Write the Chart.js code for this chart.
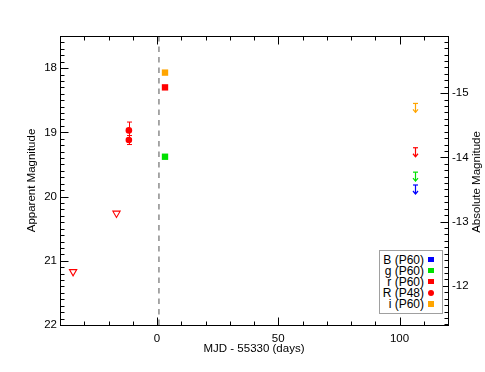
<!DOCTYPE html>
<html><head><meta charset="utf-8">
<script src="https://cdn.jsdelivr.net/npm/chart.js@4/dist/chart.umd.min.js"></script>
<style>
html,body{margin:0;padding:0;background:#fff;}
#wrap{position:relative;width:485px;height:372px;overflow:hidden;}
#c{position:absolute;left:0;top:0;}
#lg{position:absolute;left:379px;top:250px;width:62px;height:62px;border:1px solid #a0a0a0;background:#fff;font:12px "Liberation Sans",Arial,sans-serif;color:#000;}
#lg .t{position:absolute;right:18px;white-space:nowrap;line-height:12px;}
#lg .m{position:absolute;left:48px;width:5.5px;height:5.5px;}
#rt{position:absolute;width:200px;left:376px;top:175px;text-align:center;font:11.5px "Liberation Sans",Arial,sans-serif;color:#000;line-height:14px;transform:rotate(-90deg);transform-origin:50% 50%;}
</style></head>
<body><div id="wrap"><canvas id="c" width="485" height="372"></canvas><div id="lg"></div><div id="rt">Absolute Magnitude</div></div>
<script>
// ---- data ----
const distanceModulus = 33.39;
const explosionDay = 0.8;
const xMajorTicks = [0, 50, 100];
const yAppTicks = [18, 19, 20, 21, 22];
const yAbsTicks = [-15, -14, -13, -12];

const r48Days = [-11.6, -11.6];
const r48Mags = [18.97, 19.12];
const r48Errs = [0.13, 0.07];
const r48LimitDays = [-34.6, -16.7];
const r48LimitMags = [21.17, 20.26];

const p60Day = [3.3];
const iMag = [18.07];
const rMag = [18.30];
const gMag = [19.38];

const lateDay = 106.2;
const lateFilters = ['B', 'g', 'r', 'i'];
const lateLimitMags = [19.82, 19.62, 19.24, 18.55];

const legendLabels = ['B (P60)', 'g (P60)', 'r (P60)', 'R (P48)', 'i (P60)'];
const legendShapes = ['rect', 'rect', 'rect', 'circle', 'rect'];

// ---- styles ----
const COL = {B:'#0000ff', g:'#00e000', r:'#ff0000', R:'#ff0000', i:'#ffa500'};
const legendColors = [COL.B, COL.g, COL.r, COL.R, COL.i];
const lateColors = [COL.B, COL.g, COL.r, COL.i];
const FONT = {family:'"Liberation Sans", Arial, Helvetica, sans-serif', size:11.5};

const pts = (xs, ys) => ys.map((v, k) => ({x: Array.isArray(xs) ? xs[k] : xs, y: v}));

const framePlugin = {
  id: 'frame',
  afterDatasetsDraw(chart) {
    const {ctx, chartArea: a, scales: {x, y, y2}} = chart;
    const L = Math.round(a.left) + 0.5, R = Math.round(a.right) + 0.5;
    const T = Math.round(a.top) + 0.5, B = Math.round(a.bottom) + 0.5;
    const line = (x1, y1, x2, y2_) => { ctx.beginPath(); ctx.moveTo(x1, y1); ctx.lineTo(x2, y2_); ctx.stroke(); };
    ctx.save();
    // error bars for R(P48)
    ctx.strokeStyle = COL.R; ctx.lineWidth = 1;
    r48Days.forEach((d, k) => {
      const px = Math.round(x.getPixelForValue(d)) + 0.5;
      const p1 = y.getPixelForValue(r48Mags[k] - r48Errs[k]);
      const p2 = y.getPixelForValue(r48Mags[k] + r48Errs[k]);
      line(px, p1, px, p2);
      line(px - 2.5, p1, px + 2.5, p1);
      line(px - 2.5, p2, px + 2.5, p2);
    });
    // upper-limit arrows
    lateLimitMags.forEach((m, k) => {
      ctx.strokeStyle = lateColors[k]; ctx.lineWidth = 1.2;
      const px = Math.round(x.getPixelForValue(lateDay)) + 0.5;
      const py = y.getPixelForValue(m);
      line(px - 2.5, py, px + 2.5, py);
      line(px, py, px, py + 9);
      ctx.beginPath(); ctx.moveTo(px - 2.5, py + 6); ctx.lineTo(px, py + 9); ctx.lineTo(px + 2.5, py + 6); ctx.stroke();
    });
    // frame
    ctx.strokeStyle = '#000'; ctx.lineWidth = 1;
    ctx.strokeRect(L, T, R - L, B - T);
    // x ticks (bottom and top)
    for (let v = -40; v <= 120; v += 10) {
      const px = Math.round(x.getPixelForValue(v)) + 0.5;
      const len = (v % 50 === 0) ? 8 : 4;
      line(px, B, px, B - len);
      line(px, T, px, T + len);
    }
    // left ticks (apparent)
    for (let k = 175; k <= 220; k++) {
      const v = k / 10;
      const py = Math.round(y.getPixelForValue(v)) + 0.5;
      const len = (k % 10 === 0) ? 8 : 4;
      line(L, py, L + len, py);
    }
    // right ticks (absolute)
    const lo = Math.ceil(y2.min * 10), hi = Math.floor(y2.max * 10);
    for (let k = lo; k <= hi; k++) {
      const v = k / 10;
      const py = Math.round(y2.getPixelForValue(v)) + 0.5;
      const len = (k % 10 === 0) ? 8 : 4;
      line(R, py, R - len, py);
    }
    ctx.restore();
  }
};

new Chart(document.getElementById('c'), {
  type: 'scatter',
  data: {datasets: [
    {type:'line', label:'explosion', data:[{x:explosionDay, y:17.5}, {x:explosionDay, y:22}], borderColor:'#8c8c8c', borderWidth:1.5, borderDash:[5.5, 5], pointRadius:0, yAxisID:'y'},
    {label:'R (P48) limits', data:pts(r48LimitDays, r48LimitMags), pointStyle:'triangle', rotation:180, pointRadius:4.2, borderColor:COL.R, backgroundColor:'rgba(0,0,0,0)', borderWidth:1.1, yAxisID:'y'},
    {label:'R (P48)', data:pts(r48Days, r48Mags), pointStyle:'circle', pointRadius:3.3, backgroundColor:COL.R, borderColor:COL.R, borderWidth:0, yAxisID:'y'},
    {label:'i (P60)', data:pts(p60Day, iMag), pointStyle:'rect', pointRadius:4.5, backgroundColor:COL.i, borderColor:COL.i, borderWidth:0, yAxisID:'y'},
    {label:'r (P60)', data:pts(p60Day, rMag), pointStyle:'rect', pointRadius:4.5, backgroundColor:COL.r, borderColor:COL.r, borderWidth:0, yAxisID:'y'},
    {label:'g (P60)', data:pts(p60Day, gMag), pointStyle:'rect', pointRadius:4.5, backgroundColor:COL.g, borderColor:COL.g, borderWidth:0, yAxisID:'y'}
  ]},
  options: {
    responsive:false, animation:false, devicePixelRatio:1,
    layout:{padding:{top:36, left:0, right:0, bottom:0}},
    plugins:{legend:{display:false}, tooltip:{enabled:false}},
    scales: {
      x: {type:'linear', position:'bottom', min:-40, max:120,
        grid:{display:false, drawTicks:false}, border:{display:false},
        ticks:{padding:7, font:FONT, color:'#000', maxRotation:0},
        afterBuildTicks:s => { s.ticks = xMajorTicks.map(v => ({value:v})); },
        afterFit:s => { s.height = 47; },
        title:{display:true, text:'MJD - 55330 (days)', font:FONT, color:'#000', padding:{top:0, bottom:16}}},
      y: {type:'linear', position:'left', reverse:true, min:17.5, max:22,
        grid:{display:false, drawTicks:false}, border:{display:false},
        ticks:{padding:3, font:FONT, color:'#000'},
        afterBuildTicks:s => { s.ticks = yAppTicks.map(v => ({value:v})); },
        afterFit:s => { s.width = 60; },
        title:{display:true, text:'Apparent Magnitude', font:FONT, color:'#000', padding:{top:25, bottom:0}}},
      y2: {type:'linear', position:'right', reverse:true, min:17.5 - distanceModulus, max:22 - distanceModulus,
        grid:{display:false, drawTicks:false}, border:{display:false},
        ticks:{padding:4, font:FONT, color:'#000'},
        afterBuildTicks:s => { s.ticks = yAbsTicks.map(v => ({value:v})); },
        afterFit:s => { s.width = 37; }}
    }
  },
  plugins:[framePlugin]
});

// legend (text right, marker on the right)
const lg = document.getElementById('lg');
legendLabels.forEach((lab, k) => {
  const cy = 8.5 + k * 11.1;
  const t = document.createElement('div');
  t.className = 't'; t.textContent = lab; t.style.top = (cy - 6) + 'px';
  lg.appendChild(t);
  const m = document.createElement('div');
  m.className = 'm'; m.style.background = legendColors[k];
  m.style.top = (cy - 2.75) + 'px';
  if (legendShapes[k] === 'circle') { m.style.borderRadius = '50%'; m.style.width = '6px'; m.style.height = '6px'; }
  lg.appendChild(m);
});
</script>
</body></html>
